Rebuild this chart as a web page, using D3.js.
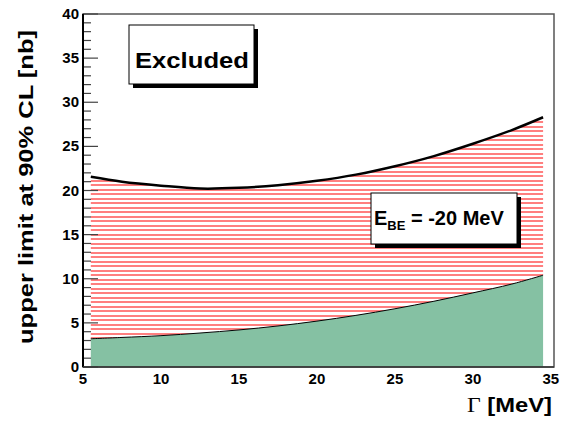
<!DOCTYPE html>
<html>
<head>
<meta charset="utf-8">
<script src="https://cdn.jsdelivr.net/npm/d3@7"></script>
<style>
  body { margin: 0; background: #fff; }
  svg { display: block; font-family: "Liberation Sans", Arial, sans-serif; }
</style>
</head>
<body>
<div id="root"></div>
<script>
// DATA
let widthVals = [5.5, 7.5, 10, 12.5, 15, 17.5, 20, 22.5, 25, 27.5, 30, 32.5, 34.5];
let upperLimit = [21.55, 21.0, 20.55, 20.22, 20.3, 20.6, 21.1, 21.8, 22.75, 23.9, 25.3, 26.85, 28.3];
let lowerBand = [3.2, 3.35, 3.55, 3.85, 4.2, 4.65, 5.2, 5.85, 6.6, 7.45, 8.4, 9.4, 10.4];
let xTicks = [5, 10, 15, 20, 25, 30, 35];
let yTicks = [0, 5, 10, 15, 20, 25, 30, 35, 40];

// DIMENSIONS
let W = 569, H = 421;
let frameL = 83, frameR = 554, frameT = 14, frameB = 367;

let svg = d3.select('#root').append('svg')
  .attr('width', W).attr('height', H);

let x = d3.scaleLinear().domain([5, 35.2]).range([frameL, frameR]);
let y = d3.scaleLinear().domain([0, 40]).range([frameB, frameT]);

let pts = widthVals.map((w, i) => ({ w: w, up: upperLimit[i], lo: lowerBand[i] }));

// hatch pattern for excluded band (crisp 2px lines, ~4.5px period)
let defs = svg.append('defs');
let pat = defs.append('pattern')
  .attr('id', 'hatch')
  .attr('patternUnits', 'userSpaceOnUse')
  .attr('width', 10).attr('height', 9);
pat.append('rect').attr('x', 0).attr('y', 0)
  .attr('width', 10).attr('height', 2).attr('fill', '#ff7f7f');
pat.append('rect').attr('x', 0).attr('y', 4)
  .attr('width', 10).attr('height', 2).attr('fill', '#ff7f7f');

let curve = d3.curveCatmullRom;

// hatched area between lower band and upper limit
let band = d3.area()
  .x(d => x(d.w))
  .y0(d => y(d.lo))
  .y1(d => y(d.up))
  .curve(curve);
svg.append('path').datum(pts)
  .attr('d', band)
  .attr('fill', 'url(#hatch)');

// green area below
let greenArea = d3.area()
  .x(d => x(d.w))
  .y0(y(0))
  .y1(d => y(d.lo))
  .curve(curve);
svg.append('path').datum(pts)
  .attr('d', greenArea)
  .attr('fill', '#85c1a3');

// lines
let lineUp = d3.line().x(d => x(d.w)).y(d => y(d.up)).curve(curve);
let lineLo = d3.line().x(d => x(d.w)).y(d => y(d.lo)).curve(curve);
svg.append('path').datum(pts).attr('d', lineUp)
  .attr('fill', 'none').attr('stroke', '#000').attr('stroke-width', 2.5);
svg.append('path').datum(pts).attr('d', lineLo)
  .attr('fill', 'none').attr('stroke', '#000').attr('stroke-width', 1);

// frame
svg.append('rect')
  .attr('x', frameL).attr('y', frameT)
  .attr('width', frameR - frameL).attr('height', frameB - frameT)
  .attr('fill', 'none').attr('stroke', '#555').attr('stroke-width', 1.5);

// y axis with ticks inside
let yAxis = svg.append('g').attr('transform', `translate(${frameL},0)`);
let minor = d3.range(0, 41, 1).filter(v => v % 5 !== 0);
yAxis.selectAll('.minor').data(minor).enter().append('line')
  .attr('x1', 0).attr('x2', 8)
  .attr('y1', d => y(d)).attr('y2', d => y(d))
  .attr('stroke', '#444').attr('stroke-width', 1.2);
yAxis.selectAll('.major').data(yTicks).enter().append('line')
  .attr('x1', 0).attr('x2', 15)
  .attr('y1', d => y(d)).attr('y2', d => y(d))
  .attr('stroke', '#444').attr('stroke-width', 1.2);
yAxis.append('line')
  .attr('x1', 0).attr('x2', 0).attr('y1', frameT).attr('y2', frameB)
  .attr('stroke', '#000').attr('stroke-width', 2);
yAxis.selectAll('.ylab').data(yTicks).enter().append('text')
  .attr('x', -4).attr('y', d => y(d) + 5)
  .attr('text-anchor', 'end')
  .style('font-size', '15px').style('font-weight', 'bold')
  .text(d => d);

// bottom axis line + labels
svg.append('line')
  .attr('x1', frameL).attr('x2', frameR).attr('y1', frameB).attr('y2', frameB)
  .attr('stroke', '#333').attr('stroke-width', 1.5);
svg.selectAll('.xlab').data(xTicks).enter().append('text')
  .attr('x', d => x(d)).attr('y', 384)
  .attr('text-anchor', 'middle')
  .style('font-size', '15px').style('font-weight', 'bold')
  .text(d => d);

// axis titles
svg.append('text')
  .attr('transform', 'translate(33,187) rotate(-90)')
  .attr('text-anchor', 'middle')
  .attr('textLength', 314).attr('lengthAdjust', 'spacingAndGlyphs')
  .style('font-size', '21px').style('font-weight', 'bold')
  .text('upper limit at 90% CL [nb]');

let xt = svg.append('text')
  .attr('x', 467).attr('y', 412)
  .attr('textLength', 85).attr('lengthAdjust', 'spacingAndGlyphs')
  .style('font-size', '21px');
xt.append('tspan').style('font-family', '"Liberation Serif", "Times New Roman", serif').text('Γ');
xt.append('tspan').style('font-weight', 'bold').text(' [MeV]');

// boxes with shadow
function textBox(x0, y0, w, h) {
  svg.append('rect').attr('x', x0 + 4).attr('y', y0 + 4)
    .attr('width', w).attr('height', h).attr('fill', '#000');
  svg.append('rect').attr('x', x0).attr('y', y0)
    .attr('width', w).attr('height', h)
    .attr('fill', '#fff').attr('stroke', '#000').attr('stroke-width', 1);
}

textBox(129, 25, 125, 59);
svg.append('text')
  .attr('x', 135).attr('y', 68)
  .attr('textLength', 114).attr('lengthAdjust', 'spacingAndGlyphs')
  .style('font-size', '22px').style('font-weight', 'bold')
  .text('Excluded');

textBox(371, 193, 146, 51);
let eb = svg.append('text')
  .attr('x', 374).attr('y', 225)
  .style('font-size', '20px').style('font-weight', 'bold');
eb.append('tspan').text('E');
eb.append('tspan').attr('dy', 5).style('font-size', '13px').text('BE');
eb.append('tspan').attr('dy', -5).text(' = -20 MeV');
</script>
</body>
</html>
